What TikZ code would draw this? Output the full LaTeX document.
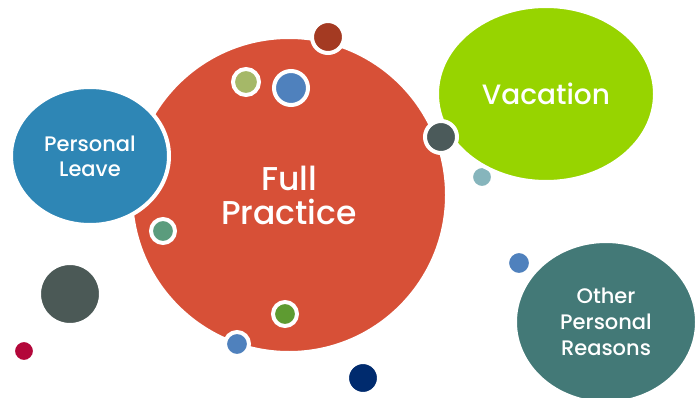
\documentclass[tikz,border=0pt]{standalone}
\usepackage{fontspec}
\setmainfont{Poppins Medium}
\usetikzlibrary{shapes.geometric}

\definecolor{practiceRed}{HTML}{D75037}
\definecolor{leaveBlue}{HTML}{2E86B5}
\definecolor{vacationGreen}{HTML}{97D400}
\definecolor{otherTeal}{HTML}{437977}
\definecolor{dotRust}{HTML}{A43A22}
\definecolor{dotOlive}{HTML}{A5B868}
\definecolor{dotBlue}{HTML}{4F81BD}
\definecolor{dotSlate}{HTML}{4B5A5A}
\definecolor{dotMist}{HTML}{86B5BC}
\definecolor{dotSage}{HTML}{5B9C7D}
\definecolor{dotCharcoal}{HTML}{4B5956}
\definecolor{dotCrimson}{HTML}{B3073A}
\definecolor{dotGrass}{HTML}{5E9B31}
\definecolor{dotNavy}{HTML}{002B6E}

\begin{document}
\begin{tikzpicture}
[x=1pt,y=-1pt,%
  bubbleDecorate/.style={shape=ellipse,inner sep=0pt,draw=white,line width=4pt,
    text=white,align=center},%
  dotDecorate/.style={shape=circle,inner sep=0pt,draw=white,line width=4pt}]
\useasboundingbox (0,0) rectangle (695,398);
%% main bubbles
\node (practice) at (289,195) [bubbleDecorate,fill=practiceRed,
  minimum width=316pt,minimum height=316pt,
  font=\fontsize{33}{36}\selectfont] {Full\\[-2pt]Practice};
\node (leave) at (90,156) [bubbleDecorate,fill=leaveBlue,
  minimum width=158pt,minimum height=138pt,
  font=\fontsize{21}{25}\selectfont] {Personal\\Leave};
\node (mist) at (482,177) [dotDecorate,fill=dotMist,minimum size=22pt] {};
\node (vacation) at (546,94) [bubbleDecorate,fill=vacationGreen,
  minimum width=218pt,minimum height=176pt,
  font=\fontsize{28}{30}\selectfont] {Vacation};
\node (other) at (606,322) [bubbleDecorate,fill=otherTeal,
  minimum width=182pt,minimum height=162pt,
  font=\fontsize{21}{26}\selectfont] {Other\\Personal\\Reasons};
%% small dots
\foreach \dotname/\x/\y/\r/\c in {
  rust/328/37/14/dotRust, olive/246/82/11/dotOlive, blueA/291/88/15/dotBlue,
  slate/441/137/14/dotSlate, sage/163/231/10/dotSage,
  charcoal/70/294/29/dotCharcoal, crimson/24/351/9/dotCrimson,
  grass/285/314/10/dotGrass, blueB/237/344/10/dotBlue,
  navy/363/378/14/dotNavy, blueC/519/263/10/dotBlue}
{
  \node (\dotname) at (\x,\y) [dotDecorate,fill=\c,minimum size=2*\r pt+4pt] {};
}
\end{tikzpicture}
\end{document}
